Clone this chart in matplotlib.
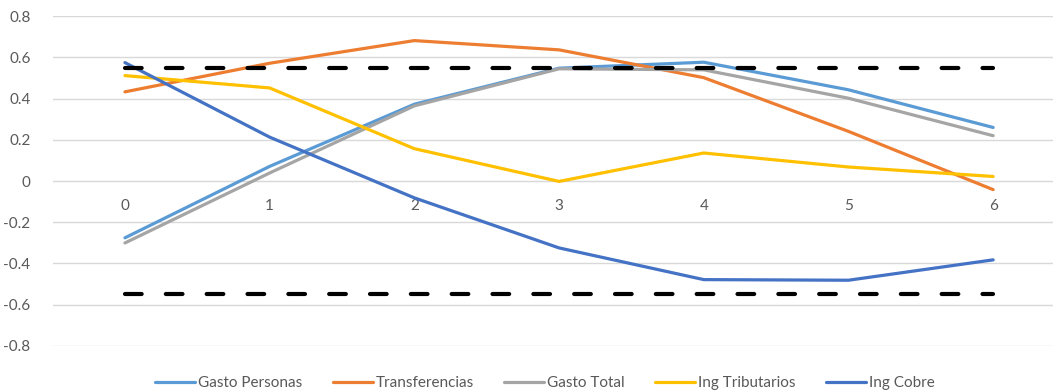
import matplotlib.pyplot as plt

# === Data ===
periods = [0, 1, 2, 3, 4, 5, 6]
gasto_personas = [-0.276, 0.071, 0.373, 0.548, 0.577, 0.443, 0.260]
transferencias = [0.433, 0.572, 0.682, 0.637, 0.502, 0.241, -0.042]
gasto_total = [-0.301, 0.039, 0.365, 0.545, 0.540, 0.402, 0.220]
ing_tributarios = [0.512, 0.452, 0.157, -0.002, 0.136, 0.068, 0.022]
ing_cobre = [0.575, 0.213, -0.082, -0.325, -0.479, -0.482, -0.383]
band = 0.55
y_ticks = [-0.8, -0.6, -0.4, -0.2, 0, 0.2, 0.4, 0.6, 0.8]

series = [
    ("Gasto Personas", gasto_personas, "#5B9BD5"),
    ("Transferencias", transferencias, "#ED7D31"),
    ("Gasto Total", gasto_total, "#A5A5A5"),
    ("Ing Tributarios", ing_tributarios, "#FFC000"),
    ("Ing Cobre", ing_cobre, "#4472C4"),
]

plt.rcParams['font.family'] = ['Lato', 'DejaVu Sans']
text_color = "#595959"

fig = plt.figure(figsize=(10.53, 3.92), dpi=100)
ax = fig.add_axes([52.6 / 1053, 46.3 / 392, 1012.9 / 1053, 329.4 / 392])

for name, vals, col in series:
    ax.plot(periods, vals, color=col, lw=2.3, label=name, solid_capstyle='round', zorder=3)

# confidence bands
for sign in (1, -1):
    ax.plot(periods, [sign * band] * len(periods), color="black", lw=3,
            linestyle=(0, (4.0, 5.8)), dash_capstyle='round', zorder=4)

ax.set_xlim(-0.5, 6.5)
ax.set_ylim(-0.8, 0.8)
ax.set_yticks(y_ticks)
ax.set_yticklabels(["0" if v == 0 else f"{v:.1f}" for v in y_ticks])
ax.set_xticks(periods)
ax.set_xticklabels([str(p) for p in periods])
ax.grid(axis='y', color="#D9D9D9", lw=1)
ax.set_axisbelow(True)

for s in ("top", "right", "left"):
    ax.spines[s].set_visible(False)
ax.spines['bottom'].set_position(('data', 0))
ax.spines['bottom'].set_color("#D9D9D9")
ax.tick_params(axis='y', length=0, pad=16, labelsize=11, labelcolor=text_color)
ax.tick_params(axis='x', length=0, pad=13, labelsize=11, labelcolor=text_color)

ax.legend(loc='center', bbox_to_anchor=(545 / 1053, 9 / 392), bbox_transform=fig.transFigure,
          ncol=5, frameon=False, fontsize=11, labelcolor=text_color,
          handlelength=2.6, handletextpad=0.2, columnspacing=2.0)

fig.savefig("out.png", dpi=100)
